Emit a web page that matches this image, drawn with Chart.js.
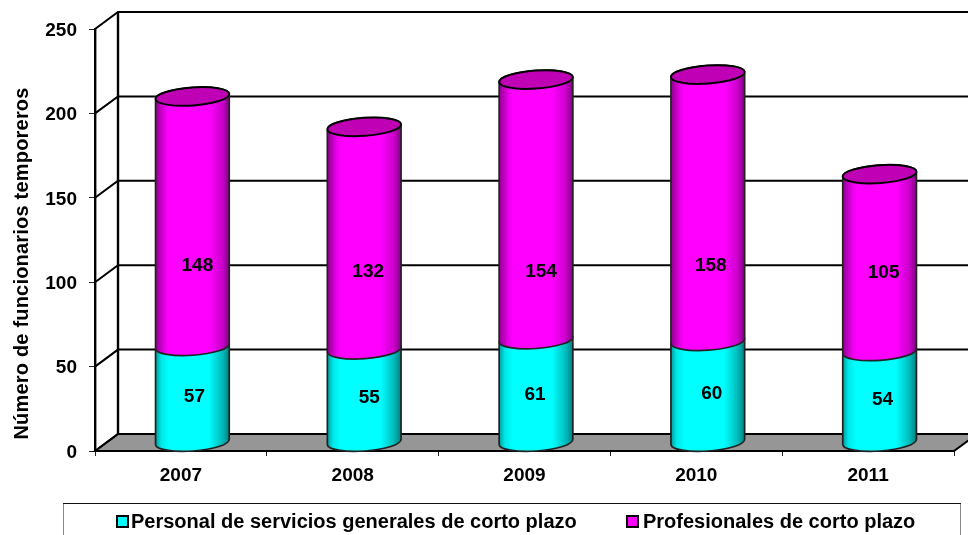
<!DOCTYPE html>
<html lang="es">
<head>
<meta charset="utf-8">
<title>Funcionarios temporeros</title>
<script src="https://cdn.jsdelivr.net/npm/chart.js@4"></script>
<style>
  html, body { margin: 0; padding: 0; background: #fff; overflow: hidden; }
  #grafico { display: block; }
</style>
</head>
<body>
<canvas id="grafico" width="968" height="535"></canvas>
<script>
// datos
const anios = ["2007", "2008", "2009", "2010", "2011"];
const serviciosGenerales = [57, 55, 61, 60, 54];
const profesionales = [148, 132, 154, 158, 105];
const nombreServicios = "Personal de servicios generales de corto plazo";
const nombreProfesionales = "Profesionales de corto plazo";
const tituloEjeY = "Número de funcionarios temporeros";

const fuente = '"Liberation Sans", Arial, sans-serif';

// profundidad del efecto 3D
const profX = 23;
const profY = 17;

// en el original las etiquetas no van centradas en cada tramo (en unidades del eje)
const alturaEtiquetas = [
  [28, 27.5, 29, 29.5, 26.5],
  [105.5, 102, 102, 105.5, 101.5]
];
const corrimientoEtiquetas = [
  [2, 5, -1, 4, 3],
  [5, 4, 5, 3, 4]
];

const tonos = [
  { color: "#00ffff", paradas: [[0, "#009c9c"], [0.08, "#00e8e8"], [0.18, "#00ffff"], [0.72, "#00ffff"], [0.9, "#00bcbc"], [1, "#008080"]] },
  { color: "#ff00ff", paradas: [[0, "#900090"], [0.14, "#f000f0"], [0.2, "#ff00ff"], [0.72, "#ff00ff"], [0.9, "#cc00cc"], [1, "#800080"]] }
];
const tapa = "#c000b4";

function dibujarParedes(chart) {
  const ctx = chart.ctx;
  const area = chart.chartArea;
  const y = chart.scales.y;
  ctx.save();
  // piso
  ctx.beginPath();
  ctx.moveTo(area.left, area.bottom);
  ctx.lineTo(area.left + profX, area.bottom - profY);
  ctx.lineTo(area.right + profX, area.bottom - profY);
  ctx.lineTo(area.right, area.bottom);
  ctx.closePath();
  ctx.fillStyle = "#969696";
  ctx.fill();
  ctx.strokeStyle = "#000";
  ctx.lineWidth = 2;
  ctx.stroke();
  // lineas de la pared
  y.ticks.forEach((t) => {
    const py = y.getPixelForValue(t.value);
    ctx.beginPath();
    ctx.moveTo(area.left, py);
    ctx.lineTo(area.left + profX, py - profY);
    ctx.lineTo(area.right + profX, py - profY);
    ctx.stroke();
  });
  ctx.lineWidth = 2.4;
  ctx.beginPath();
  ctx.moveTo(area.left + profX, area.top - profY);
  ctx.lineTo(area.left + profX, area.bottom - profY);
  ctx.stroke();
  ctx.restore();
}

function dibujarCilindro(ctx, barra, tono, conTapa) {
  const cx = barra.x + profX / 2;
  const rx = barra.width / 2;
  const ry = 9;
  const giro = -0.07;
  const arriba = barra.y - profY / 2;
  const abajo = barra.base - profY / 2;

  const degradado = ctx.createLinearGradient(cx - rx, 0, cx + rx, 0);
  tono.paradas.forEach((p) => degradado.addColorStop(p[0], p[1]));

  ctx.beginPath();
  ctx.ellipse(cx, abajo, rx, ry, giro, 0, Math.PI);
  ctx.ellipse(cx, arriba, rx, ry, giro, Math.PI, Math.PI * 2);
  ctx.closePath();
  ctx.fillStyle = degradado;
  ctx.fill();
  ctx.strokeStyle = "#222";
  ctx.lineWidth = 1.7;
  ctx.stroke();

  if (conTapa) {
    ctx.beginPath();
    ctx.ellipse(cx, arriba, rx, ry, giro, 0, Math.PI * 2);
    ctx.fillStyle = tapa;
    ctx.fill();
    ctx.strokeStyle = "#000";
    ctx.lineWidth = 2;
    ctx.stroke();
  }
}

function dibujarLeyenda(chart) {
  const ctx = chart.ctx;
  ctx.save();
  ctx.strokeStyle = "#888";
  ctx.lineWidth = 1;
  ctx.strokeRect(63.5, 503.5, 897, 40);
  ctx.strokeStyle = "#111";
  ctx.beginPath();
  ctx.moveTo(63, 503.5);
  ctx.lineTo(961, 503.5);
  ctx.stroke();

  const marcas = [117, 627];
  const textos = [131, 643];
  chart.data.datasets.forEach((ds, i) => {
    ctx.fillStyle = ds.backgroundColor;
    ctx.fillRect(marcas[i], 516, 11, 11);
    ctx.strokeStyle = "#000";
    ctx.lineWidth = 2;
    ctx.strokeRect(marcas[i], 516, 11, 11);
    ctx.fillStyle = "#000";
    ctx.font = "bold 20px " + fuente;
    ctx.textAlign = "left";
    ctx.textBaseline = "alphabetic";
    ctx.fillText(ds.label, textos[i], 528);
  });
  ctx.restore();
}

const cilindros = {
  id: "cilindros",
  beforeDatasetsDraw(chart) {
    const ctx = chart.ctx;
    dibujarParedes(chart);
    chart.data.datasets.forEach((ds, i) => {
      chart.getDatasetMeta(i).data.forEach((barra) => {
        dibujarCilindro(ctx, barra, tonos[i], i === chart.data.datasets.length - 1);
      });
    });
    // etiquetas de valor
    ctx.save();
    ctx.fillStyle = "#000";
    ctx.font = "bold 19px " + fuente;
    ctx.textAlign = "center";
    ctx.textBaseline = "middle";
    chart.data.datasets.forEach((ds, i) => {
      chart.getDatasetMeta(i).data.forEach((barra, j) => {
        const py = chart.scales.y.getPixelForValue(alturaEtiquetas[i][j]) - profY / 2 + 1.5;
        ctx.fillText(ds.data[j], barra.x + profX / 2 + corrimientoEtiquetas[i][j], py);
      });
    });
    ctx.restore();
    return false;
  },
  afterDraw(chart) {
    const ctx = chart.ctx;
    dibujarLeyenda(chart);
    // titulo del eje Y
    ctx.save();
    ctx.translate(28, 263.5);
    ctx.rotate(-Math.PI / 2);
    ctx.fillStyle = "#000";
    ctx.font = "bold 20px " + fuente;
    ctx.letterSpacing = "0.2px";
    ctx.textAlign = "center";
    ctx.textBaseline = "alphabetic";
    ctx.fillText(tituloEjeY, 0, 0);
    ctx.restore();
  }
};

new Chart(document.getElementById("grafico"), {
  type: "bar",
  data: {
    labels: anios,
    datasets: [
      { label: nombreServicios, data: serviciosGenerales, backgroundColor: tonos[0].color },
      { label: nombreProfesionales, data: profesionales, backgroundColor: tonos[1].color }
    ]
  },
  options: {
    responsive: false,
    animation: false,
    layout: { padding: { top: 29, right: 14, left: 0, bottom: 0 } },
    categoryPercentage: 1,
    barPercentage: 0.43,
    plugins: {
      legend: { display: false },
      tooltip: { enabled: false }
    },
    scales: {
      x: {
        stacked: true,
        afterFit: (escala) => { escala.height = 84; },
        border: { color: "#000", width: 2 },
        grid: { drawOnChartArea: false, drawTicks: true, tickLength: 5, color: "#222", lineWidth: 1 },
        ticks: { color: "#000", font: { family: fuente, size: 19, weight: "bold" }, padding: 8, maxRotation: 0 }
      },
      y: {
        stacked: true,
        min: 0,
        max: 250,
        afterFit: (escala) => { escala.width = 95; },
        border: { color: "#000", width: 2.4 },
        grid: { drawOnChartArea: false, drawTicks: true, tickLength: 6, color: "#222", lineWidth: 1 },
        ticks: { stepSize: 50, color: "#000", font: { family: fuente, size: 19, weight: "bold" }, padding: 12, labelOffset: 1.5 }
      }
    }
  },
  plugins: [cilindros]
});
</script>
</body>
</html>
